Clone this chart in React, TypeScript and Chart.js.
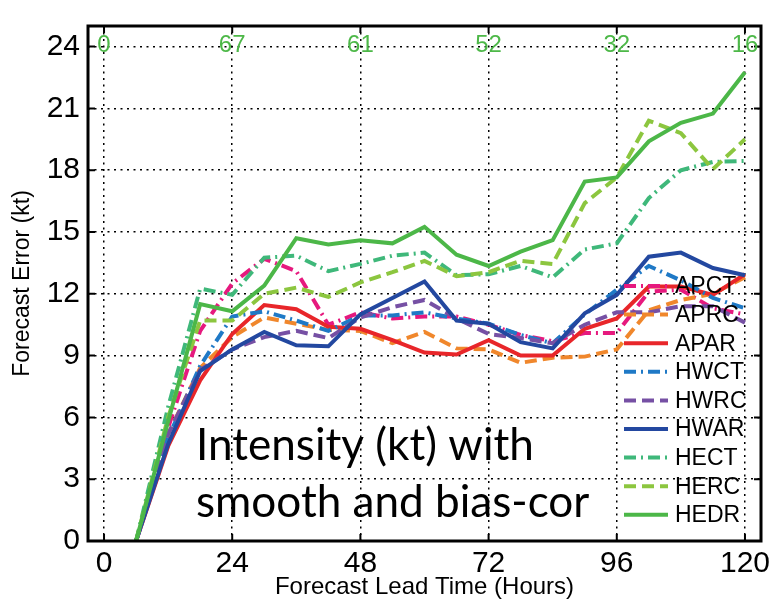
import { useEffect, useRef } from "react";
import { Chart, registerables } from "chart.js";

Chart.register(...registerables);

const hours = [6, 12, 18, 24, 30, 36, 42, 48, 54, 60, 66, 72, 78, 84, 90, 96, 102, 108, 114, 120];

const seriesNames = ["APCT", "APRC", "APAR", "HWCT", "HWRC", "HWAR", "HECT", "HERC", "HEDR"];

const APCT = [0, 5.5, 10.2, 12.5, 13.7, 13.1, 10.5, 11.1, 10.8, 10.9, 10.9, 10.5, 10.0, 9.7, 10.1, 10.1, 12.1, 12.2, 11.3, 11.0];
const APRC = [0, 5.2, 8.4, 9.9, 10.85, 10.55, 10.25, 10.2, 9.6, 10.15, 9.35, 9.3, 8.65, 8.9, 8.95, 9.3, 11.2, 11.7, 12.0, 12.8];
const APAR = [0, 4.6, 7.8, 10.05, 11.45, 11.25, 10.4, 10.3, 9.75, 9.15, 9.05, 9.75, 9.0, 9.0, 10.3, 10.8, 12.35, 12.35, 11.95, 12.95];
const HWCT = [0, 5.0, 8.5, 10.9, 11.15, 10.7, 10.2, 10.95, 10.95, 11.1, 10.8, 10.55, 10.0, 9.6, 11.0, 12.2, 13.35, 12.65, 11.8, 11.3];
const HWRC = [0, 5.2, 8.3, 9.3, 9.9, 10.2, 9.85, 10.85, 11.35, 11.7, 10.8, 10.05, 9.85, 9.6, 10.5, 11.1, 11.1, 11.4, 11.4, 10.6];
const HWAR = [0, 4.7, 8.25, 9.3, 10.15, 9.5, 9.45, 11.0, 11.8, 12.6, 10.7, 10.55, 9.65, 9.35, 11.05, 11.95, 13.8, 14.0, 13.25, 12.9];
const HECT = [0, 6.5, 12.25, 11.95, 13.75, 13.85, 13.1, 13.45, 13.85, 14.0, 12.9, 12.95, 13.35, 12.8, 14.15, 14.45, 16.65, 18.0, 18.4, 18.45];
const HERC = [0, 6.0, 10.7, 10.7, 12.0, 12.3, 11.85, 12.55, 13.05, 13.6, 12.85, 13.05, 13.6, 13.45, 16.4, 17.65, 20.4, 19.8, 18.05, 19.5];
const HEDR = [0, 5.8, 11.5, 11.15, 12.4, 14.7, 14.4, 14.6, 14.45, 15.25, 13.9, 13.35, 14.05, 14.6, 17.45, 17.65, 19.4, 20.3, 20.75, 22.75];

const seriesValues = [APCT, APRC, APAR, HWCT, HWRC, HWAR, HECT, HERC, HEDR];

const seriesColors = ["#e6197e", "#f0872c", "#e8262a", "#1f79c6", "#7650a4", "#2348a0", "#3fb87a", "#8cc63f", "#4cb748"];
const DASHED = [12, 6];
const DASHDOT = [12, 5, 2, 5];
const SOLID: number[] = [];
const seriesDash = [DASHDOT, DASHED, SOLID, DASHDOT, DASHED, SOLID, DASHDOT, DASHED, SOLID];

const xTicks = [0, 24, 48, 72, 96, 120];
const yTicks = [0, 3, 6, 9, 12, 15, 18, 21, 24];
const topCounts = ["0", "67", "61", "52", "32", "16"];

const annotationLines = ["Intensity (kt) with", "smooth and bias-cor"];

const FONT = "'Liberation Sans', Arial, Helvetica, sans-serif";

const overlayPlugin = {
  id: "overlay",
  afterDatasetsDraw(chart: any) {
    const { ctx, chartArea, scales } = chart;
    const xs = scales.x;
    const ys = scales.y;
    const { left, right, top, bottom } = chartArea;
    ctx.save();
    // axis box
    ctx.strokeStyle = "#000";
    ctx.lineWidth = 3;
    ctx.setLineDash([]);
    ctx.strokeRect(left, top, right - left, bottom - top);
    // inward ticks
    ctx.lineWidth = 2;
    const tl = 7;
    ctx.beginPath();
    for (const v of xTicks) {
      const px = xs.getPixelForValue(v);
      ctx.moveTo(px, bottom);
      ctx.lineTo(px, bottom - tl);
      ctx.moveTo(px, top);
      ctx.lineTo(px, top + tl);
    }
    for (const v of yTicks) {
      const py = ys.getPixelForValue(v);
      ctx.moveTo(left, py);
      ctx.lineTo(left + tl, py);
      ctx.moveTo(right, py);
      ctx.lineTo(right - tl, py);
    }
    ctx.stroke();

    // top counts
    ctx.fillStyle = "#4db848";
    ctx.font = `24px ${FONT}`;
    ctx.textAlign = "center";
    ctx.textBaseline = "middle";
    xTicks.forEach((v, i) => {
      ctx.fillText(topCounts[i], xs.getPixelForValue(v), ys.getPixelForValue(24) - 1);
    });

    // annotation
    ctx.fillStyle = "#000";
    ctx.textAlign = "left";
    ctx.textBaseline = "alphabetic";
    ctx.font = `40px Lato, 'Open Sans', sans-serif`;
    const w = ctx.measureText(annotationLines[0]).width;
    const size = (40 * 338) / w;
    ctx.font = `${size}px Lato, 'Open Sans', sans-serif`;
    ctx.fillText(annotationLines[0], 196, 460);
    ctx.fillText(annotationLines[1], 196, 517);

    // legend
    const lx0 = 624;
    const lx1 = 668;
    const tx = 675;
    const y0 = 286;
    const dy = 28.6;
    ctx.font = `23px ${FONT}`;
    ctx.textBaseline = "middle";
    seriesNames.forEach((name, i) => {
      const y = y0 + dy * i;
      ctx.strokeStyle = seriesColors[i];
      ctx.lineWidth = 4;
      ctx.setLineDash(seriesDash[i]);
      ctx.beginPath();
      ctx.moveTo(lx0, y);
      ctx.lineTo(lx1, y);
      ctx.stroke();
      ctx.setLineDash([]);
      ctx.fillStyle = "#000";
      ctx.fillText(name, tx, y + 1);
    });
    ctx.restore();
  },
};

export default function App() {
  const canvasRef = useRef<HTMLCanvasElement | null>(null);

  useEffect(() => {
    const canvas = canvasRef.current;
    if (!canvas) return;
    const datasets = seriesNames.map((name, i) => ({
      label: name,
      data: hours.map((h, j) => ({ x: h, y: seriesValues[i][j] })),
      borderColor: seriesColors[i],
      backgroundColor: seriesColors[i],
      borderWidth: 4,
      borderDash: seriesDash[i],
      pointRadius: 0,
      fill: false,
      tension: 0,
      order: 8 - i,
    }));

    const chart = new Chart(canvas, {
      type: "line",
      data: { datasets },
      plugins: [overlayPlugin],
      options: {
        animation: false,
        responsive: false,
        devicePixelRatio: 1,
        layout: { padding: { left: 0, right: 17, top: 7, bottom: 0 } },
        plugins: {
          legend: { display: false },
          tooltip: { enabled: false },
        },
        scales: {
          x: {
            type: "linear",
            min: -3,
            max: 123,
            afterBuildTicks: (s: any) => {
              s.ticks = xTicks.map((v) => ({ value: v }));
            },
            afterFit: (s: any) => {
              s.height = 63;
            },
            grid: { color: "#000", lineWidth: 1.5, drawTicks: false },
            border: { display: false, dash: [2, 4.5] },
            ticks: {
              color: "#000",
              font: { family: FONT, size: 30 },
              padding: 5,
              maxRotation: 0,
              autoSkip: false,
            },
            title: {
              display: true,
              text: "Forecast Lead Time (Hours)",
              color: "#000",
              font: { family: FONT, size: 24 },
              padding: { top: 0, bottom: 2 },
            },
          },
          y: {
            type: "linear",
            min: 0,
            max: 25,
            afterBuildTicks: (s: any) => {
              s.ticks = yTicks.map((v) => ({ value: v }));
            },
            afterFit: (s: any) => {
              s.width = 88;
            },
            grid: { color: "#000", lineWidth: 1.5, drawTicks: false },
            border: { display: false, dash: [2, 4.5] },
            ticks: {
              color: "#000",
              font: { family: FONT, size: 30 },
              padding: 8,
              autoSkip: false,
            },
            title: {
              display: true,
              text: "Forecast Error (kt)",
              color: "#000",
              font: { family: FONT, size: 23 },
              padding: { top: 9, bottom: 0 },
            },
          },
        },
      } as any,
    });
    return () => chart.destroy();
  }, []);

  return (
    <div style={{ position: "fixed", left: 0, top: 0, width: 778, height: 604, background: "#fff" }}>
      <canvas ref={canvasRef} width={778} height={604} style={{ width: 778, height: 604, display: "block" }} />
    </div>
  );
}
